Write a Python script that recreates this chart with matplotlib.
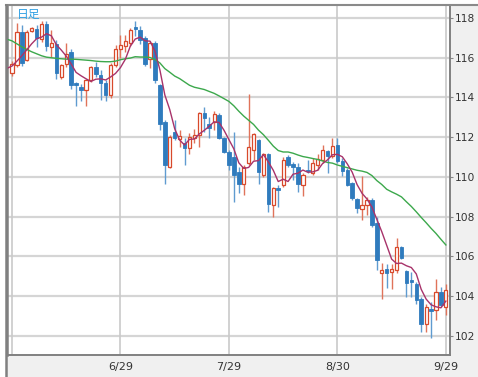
import numpy as np
import matplotlib
matplotlib.use("Agg")
import matplotlib.pyplot as plt
from matplotlib.patches import Rectangle
from matplotlib.lines import Line2D

# ---- data (daily candles, index 0..88) ----
opens = [115.25, 115.63, 117.31, 115.88, 117.36, 117.43, 116.95, 117.70, 116.55, 116.70,
         115.05, 115.70, 116.30, 114.75, 114.54, 114.37, 114.88, 115.52, 115.13, 114.71,
         114.12, 115.63, 116.42, 116.60, 116.75, 117.53, 117.40, 117.00, 115.95, 116.75,
         114.62, 112.78, 110.51, 112.27, 111.90, 111.69, 111.44, 111.94, 112.11, 113.20,
         112.65, 112.78, 113.11, 111.94, 111.27, 111.00, 110.26, 109.67, 110.68, 111.38,
         111.85, 110.09, 111.18, 108.58, 109.45, 109.59, 111.00, 110.65, 110.50, 109.61,
         110.37, 110.20, 110.62, 110.87, 111.30, 111.04, 111.63, 110.79, 110.37, 109.70,
         108.89, 108.39, 108.60, 108.86, 107.68, 105.17, 105.39, 105.22, 105.33, 106.50,
         105.27, 104.80, 104.63, 103.88, 102.62, 103.33, 103.29, 104.21, 103.47]
highs = [115.85, 117.76, 117.64, 117.40, 117.55, 117.65, 117.85, 117.85, 117.40, 116.90,
         115.70, 116.75, 116.45, 114.80, 114.70, 114.95, 115.60, 115.80, 115.40, 114.90,
         115.72, 116.65, 117.14, 117.15, 117.50, 117.86, 117.60, 117.10, 116.85, 116.85,
         114.70, 112.85, 112.11, 112.86, 112.35, 111.95, 112.20, 112.40, 113.25, 113.53,
         113.00, 113.30, 113.20, 112.00, 111.35, 112.27, 110.50, 110.60, 114.20, 112.20,
         111.90, 111.20, 111.20, 109.50, 109.60, 111.00, 111.10, 110.75, 110.70, 110.20,
         110.87, 110.96, 111.18, 111.63, 111.38, 111.97, 111.97, 110.96, 110.45, 109.75,
         108.95, 110.03, 109.00, 108.94, 108.00, 105.66, 105.60, 105.64, 106.92, 106.55,
         105.33, 105.22, 104.70, 103.95, 103.63, 103.71, 104.84, 104.46, 104.63]
lows = [115.10, 115.55, 115.60, 115.85, 117.30, 116.55, 116.80, 116.35, 116.05, 114.95,
        114.95, 115.55, 114.45, 113.55, 113.80, 113.55, 114.80, 115.05, 113.85, 113.80,
        113.95, 115.55, 115.97, 116.30, 116.60, 117.10, 116.70, 115.60, 115.50, 114.75,
        112.36, 109.67, 110.45, 111.85, 111.50, 110.60, 111.18, 111.70, 111.52, 112.27,
        111.95, 112.35, 111.90, 111.20, 110.34, 108.75, 109.17, 109.08, 110.60, 110.85,
        109.67, 110.00, 108.24, 107.99, 108.50, 109.50, 110.50, 109.84, 109.25, 109.03,
        110.20, 110.10, 110.37, 110.70, 110.20, 110.95, 110.70, 110.03, 109.53, 108.86,
        108.18, 107.85, 108.10, 107.50, 105.33, 103.88, 104.40, 104.38, 105.16, 105.85,
        103.96, 103.96, 103.63, 102.20, 102.20, 101.91, 102.79, 103.46, 103.04]
closes = [115.70, 117.31, 115.72, 117.31, 117.48, 116.98, 117.70, 116.60, 116.75, 115.25,
          115.63, 116.20, 114.62, 114.62, 114.40, 114.88, 115.52, 115.18, 114.71, 114.12,
          115.63, 116.42, 116.64, 116.82, 117.40, 117.43, 116.90, 115.70, 116.75, 114.90,
          112.69, 110.60, 112.02, 111.94, 112.05, 111.44, 112.02, 112.10, 113.23, 112.95,
          112.45, 113.15, 111.94, 111.27, 110.60, 110.10, 109.67, 110.51, 111.52, 112.16,
          110.26, 111.18, 108.66, 109.42, 109.33, 110.85, 110.60, 110.50, 109.67, 110.12,
          110.29, 110.70, 110.90, 111.38, 111.04, 111.58, 110.79, 110.29, 109.61, 108.94,
          108.44, 108.61, 108.86, 107.60, 105.83, 105.34, 105.17, 105.39, 106.50, 105.92,
          104.68, 104.72, 103.79, 102.62, 103.46, 103.25, 104.21, 103.54, 104.30]

# moving-average values before enough candles exist (index -1 ..)
ma5_head = [115.47, 115.58, 115.83, 116.10, 116.40]
ma25_head = [116.93, 116.85, 116.70, 116.55, 116.42, 116.30, 116.20, 116.10, 116.03, 116.00,
             115.97, 115.95, 115.93, 115.93, 115.92, 115.90, 115.88, 115.86, 115.83, 115.81,
             115.80, 115.80, 115.83, 115.90, 115.95]

tick_pos = [0, 22, 44, 66, 88]
tick_labels = ["", "6/29", "7/29", "8/30", "9/29"]
y_ticks = [102, 104, 106, 108, 110, 112, 114, 116, 118]
title_text = "日足"

# ---- derived ----
o = np.array(opens); h = np.array(highs); l = np.array(lows); c = np.array(closes)
n = len(c)
idx = np.arange(n)

def sma(arr, k):
    out = np.full(len(arr), np.nan)
    for i in range(k - 1, len(arr)):
        out[i] = arr[i - k + 1:i + 1].mean()
    return out

ma5 = sma(c, 5)
ma25 = sma(c, 25)
ma5_x = np.concatenate([np.arange(-1, 4), idx[4:]])
ma5_y = np.concatenate([ma5_head, ma5[4:]])
ma25_x = np.concatenate([np.arange(-1, 24), idx[24:]])
ma25_y = np.concatenate([ma25_head, ma25[24:]])

RED = "#d8492b"
BLUE = "#2f7bbd"
BLUE_WICK = "#5f9bd0"
RED_WICK = "#e0735a"

W, H = 478, 377
fig = plt.figure(figsize=(W / 100, H / 100), dpi=100)
fig.patch.set_facecolor("white")

# light grey frame area (axis label bands)
bg = Rectangle((6 / W, 0), 1 - 6 / W, 1 - 5 / H, transform=fig.transFigure,
               facecolor="#f0f0f0", edgecolor="none", zorder=-5)
fig.patches.append(bg)

ax = fig.add_axes([7 / W, 1 - 355 / H, 443 / W, 350 / H])
ax.set_zorder(1)
ax.set_facecolor("white")
ax.set_xlim(-1.01, 88.84)
ax.set_ylim(101.04, 118.655)

# grid
for yv in y_ticks:
    ax.axhline(yv, color="#d5d5d5", lw=1.6, zorder=1)
for xv in tick_pos:
    ax.axvline(xv, color="#c9c9c9", lw=1.2, zorder=1)

# candles
up = c >= o
wick_col = np.where(up, RED_WICK, BLUE_WICK)
ax.vlines(idx, l, h, colors=wick_col, lw=1.0, zorder=2)
bottom = np.minimum(o, c)
height = np.maximum(np.abs(c - o), 0.06)
ax.bar(idx[up], height[up], bottom=bottom[up], width=0.66, facecolor="white",
       edgecolor=RED, linewidth=0.9, zorder=3)
ax.bar(idx[~up], height[~up], bottom=bottom[~up], width=0.7, facecolor=BLUE,
       edgecolor=BLUE, linewidth=0.6, zorder=3)

# moving averages
ax.plot(ma25_x, ma25_y, color="#3ca84c", lw=1.0, zorder=4)
ax.plot(ma5_x, ma5_y, color="#a8336a", lw=1.0, zorder=4)

# axes styling
ax.yaxis.tick_right()
ax.set_yticks(y_ticks)
ax.set_yticklabels([str(v) for v in y_ticks])
ax.set_xticks(tick_pos)
ax.set_xticklabels(tick_labels)
ax.tick_params(axis="y", direction="out", length=2.5, width=0.8, pad=1,
               colors="#888888", labelcolor="#333333", labelsize=7.7)
ax.tick_params(axis="x", length=0, pad=5, labelcolor="#333333", labelsize=8)
for s in ["left", "right", "top", "bottom"]:
    ax.spines[s].set_color("#808080")
    ax.spines[s].set_linewidth(1.4)
ax.spines["left"].set_linewidth(1.8)

# outer frame lines
fig.lines.append(Line2D([6 / W, 1], [1 - 5 / H, 1 - 5 / H], transform=fig.transFigure,
                        color="#8a8a8a", lw=1.5, zorder=5))
fig.lines.append(Line2D([6.3 / W, 6.3 / W], [0, 1 - 5 / H], transform=fig.transFigure,
                        color="#808080", lw=1.8, zorder=5))

fig.text(17 / W, 1 - 14 / H, title_text, color="#2e9fe3", fontsize=8.5, va="center",
         ha="left", family=["Noto Sans CJK JP", "DejaVu Sans"], zorder=6)

fig.savefig("out.png", dpi=100)
